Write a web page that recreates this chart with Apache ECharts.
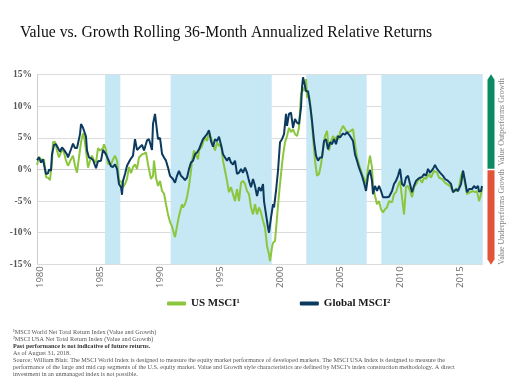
<!DOCTYPE html>
<html>
<head>
<meta charset="utf-8">
<script src="https://cdn.jsdelivr.net/npm/echarts@6/dist/echarts.min.js"></script>
<style>html,body{margin:0;padding:0;background:#fff;}#c{width:522px;height:384px;}</style>
</head>
<body>
<div id="c"></div>
<script>
// months since Jan 1980
const usMonths = [-3,-1,2,4,6,8,10,12,13,15,17,19,22,24,26,28,31,33,35,37,39,41,43,44,46,48,50,52,54,56,58,60,63,64,66,68,71,73,75,77,79,81,83,85,87,89,91,93,95,97,99,102,104,106,108,111,113,114,116,118,120,122,124,126,128,
130,132,133,135,137,139,142,143,145,147,149,151,152,154,156,158,159,162,163,165,167,169,171,173,175,177,179,181,183,185,187,189,191,193,195,197,199,201,203,205,207,209,211,213,215,217,219,221,223,225,227,229,230,232,233,235,237,239,241,243,245,247,249,251,253,255,257,259,261,263,264,266,267,269,271,273,275,277,279,281,283,285,287,289,291,293,295,297,299,
300,303,305,307,310,313,315,317,319,322,324,326,328,330,332,333,335,337,339,341,343,345,347,349,352,354,356,358,360,362,364,366,368,370,372,374,377,379,382,384,386,389,391,394,397,399,402,405,407,410,413,415,417,419,421,423,425,427,430,433,435,437,439,441,442];
const usValues = [0.7,2.0,1.4,1.6,-1.2,-1.3,-1.7,1.4,4.3,4.4,3.0,1.9,3.1,2.7,1.4,0.6,1.6,2.2,0.6,-0.5,1.9,4.3,5.7,5.3,3.0,0.3,1.4,2.2,1.4,1.1,3.4,3.0,3.4,4.0,3.1,0.9,0.8,1.6,2.2,1.4,-1.8,-1.9,-2.8,-2.3,-1.5,0.4,-0.6,0.4,0.8,0.1,1.9,2.4,2.5,2.7,0.8,-1.5,-1.0,1.4,-1.3,-2.6,-1.8,-3.4,-3.8,-5.5,-7.1,
-8.3,-9.0,-9.6,-10.7,-9.0,-7.3,-5.5,-6.0,-5.5,-4.4,-2.6,-0.2,1.4,3.0,2.3,1.6,3.0,3.7,4.3,5.1,4.5,5.9,5.0,4.0,3.0,4.3,3.7,4.1,1.4,-0.2,-1.8,-3.6,-2.8,-3.9,-5.0,-3.1,-5.0,-2.1,-1.8,-2.3,-3.4,-3.9,-6.0,-7.1,-5.5,-7.1,-6.0,-6.8,-8.1,-9.2,-12.1,-13.4,-14.5,-12.3,-11.6,-11.3,-7.6,-3.9,-0.7,2.2,4.3,5.3,6.6,5.9,6.4,5.6,5.3,6.6,11.9,13.0,12.4,14.3,11.4,11.7,9.3,5.1,1.4,-1.0,-0.7,0.8,3.2,5.3,6.1,3.0,4.5,5.3,4.6,5.3,4.8,
5.9,6.9,6.4,5.9,6.0,6.4,4.0,1.9,0.8,-0.7,-1.5,-2.3,0.3,2.2,0.3,-2.6,-4.2,-5.5,-5.0,-6.3,-6.8,-6.3,-6.0,-5.0,-5.2,-3.9,-3.6,-2.6,-1.8,-4.4,-7.1,-2.8,-2.6,-3.4,-4.4,-2.8,-2.1,-1.3,-2.1,-1.3,-1.5,-0.7,-1.3,-0.2,-0.5,-1.3,-1.5,-2.1,-2.3,-2.6,-3.5,-3.4,-3.4,-2.8,-1.0,-0.2,-2.3,-3.9,-3.6,-3.4,-3.6,-3.4,-5.0,-3.9,-3.1];

const globalMonths = [-3,-1,1,3,4,6,8,9,11,12,14,16,18,20,22,24,27,28,31,33,35,37,40,41,43,44,46,47,49,51,53,56,58,61,63,66,69,71,73,75,77,79,81,82,83,85,87,90,93,95,97,99,102,104,107,109,112,113,115,117,118,120,122,124,126,128,
130,133,135,137,139,141,143,145,147,149,151,153,155,157,159,161,163,165,167,169,171,173,175,177,179,182,183,185,187,189,191,193,195,197,199,201,203,205,207,209,211,213,215,217,219,221,223,224,226,228,229,231,233,234,236,238,240,242,244,246,247,249,251,253,255,257,259,261,262,263,265,266,268,270,272,274,276,278,280,282,284,286,288,290,292,294,296,298,
300,303,305,307,310,313,315,317,319,322,324,326,328,330,332,333,335,337,339,341,343,347,349,352,354,356,358,360,362,364,366,368,370,372,374,376,378,380,382,384,386,388,390,393,395,397,400,403,405,408,411,413,416,418,421,423,425,427,429,432,434,436,438,439,441,442];
const globalValues = [1.5,1.9,1.1,1.6,0.8,-0.7,-0.6,0.0,-0.2,2.4,3.9,4.0,3.4,2.8,3.5,3.1,2.4,1.9,3.2,4.1,3.4,3.4,5.6,7.2,6.6,6.8,5.2,3.0,1.9,1.8,1.5,0.2,1.3,1.4,3.1,2.4,1.3,0.5,0.4,0.8,0.1,-2.3,-2.8,-4.0,-1.8,-0.7,0.6,1.5,2.2,4.8,3.1,3.4,3.9,3.0,4.6,4.8,3.1,7.2,8.8,6.1,4.8,5.0,2.5,1.9,1.4,0.3,
-1.0,-1.5,-2.1,-1.0,-0.2,-1.0,-1.3,-1.7,-1.3,0.1,1.1,1.4,2.4,2.7,3.2,4.0,4.8,5.2,5.6,6.2,4.5,3.6,4.8,4.5,5.2,3.2,2.4,1.9,1.4,1.9,1.1,0.8,1.4,-0.7,-0.5,0.1,-0.5,0.3,-0.5,-1.8,-2.8,-1.5,-2.6,-4.2,-2.8,-3.4,-2.3,-5.0,-7.1,-9.2,-10.0,-7.6,-5.5,-6.0,-3.4,-0.2,4.3,4.8,5.6,8.8,6.9,8.8,9.0,6.6,8.0,7.4,7.2,9.8,13.0,14.6,13.2,12.4,12.4,10.3,7.7,4.5,2.2,1.4,1.9,1.9,4.5,4.8,3.2,4.3,4.0,4.8,4.0,5.3,
5.1,5.7,5.5,5.9,5.3,4.5,2.4,1.4,0.3,-1.0,-2.1,-3.4,-1.0,-0.1,-1.8,-3.9,-2.6,-3.4,-2.6,-3.4,-4.4,-4.4,-4.3,-3.4,-2.3,-1.8,-1.0,0.1,-2.3,-2.6,-1.3,-1.0,-2.3,-3.6,-2.6,-1.8,-1.5,-1.3,-1.2,-0.7,-1.0,0.1,-0.5,0.1,0.7,0.1,-0.5,-1.0,-1.5,-1.8,-2.3,-3.6,-3.1,-3.4,-2.3,-0.2,-1.8,-3.6,-3.1,-3.1,-2.6,-3.0,-2.6,-3.5,-3.4,-2.6];

// shaded periods (decimal years)
const bandStarts = [1985.42, 1990.89, 2002.19, 2008.44];
const bandEnds   = [1986.69, 1999.31, 2007.22, 2016.89];

const xLabelYears = [1980, 1985, 1990, 1995, 2000, 2005, 2010, 2015];
const seriesNames = ['US MSCI\u00B9', 'Global MSCI\u00B2'];

const xMin = 1979.75, xMax = 2016.89;
const toYear = m => 1980 + m / 12;
const usData = usMonths.map((m, i) => [toYear(m), usValues[i]]);
const globalData = globalMonths.map((m, i) => [toYear(m), globalValues[i]]);

const serif = "'Liberation Serif', 'DejaVu Serif', serif";
const chart = echarts.init(document.getElementById('c'), null, {renderer: 'canvas'});

chart.setOption({
  animation: false,
  title: {
    text: 'Value vs. Growth Rolling 36-Month Annualized Relative Returns',
    left: 15, top: 20,
    textStyle: {fontFamily: serif, fontSize: 15.7, fontWeight: 'normal', color: '#111'}
  },
  grid: {left: 37, right: 39.3, top: 74.7, bottom: 119.7, containLabel: false},
  legend: {
    data: seriesNames,
    left: 162, top: 293, itemGap: 60, itemWidth: 19, itemHeight: 4, icon: 'roundRect',
    textStyle: {fontFamily: serif, fontSize: 11, fontWeight: 'bold', color: '#1a1a1a'}
  },
  xAxis: {
    type: 'value', min: xMin, max: xMax,
    axisLine: {show: true, lineStyle: {color: '#cfcfcf', width: 1}},
    axisTick: {show: false},
    splitLine: {show: false},
    axisLabel: {
      customValues: xLabelYears, rotate: 90, margin: 2,
      fontFamily: "'Open Sans', sans-serif", fontSize: 9.5, color: '#6a6a6a',
      formatter: v => String(Math.round(v))
    }
  },
  yAxis: {
    type: 'value', min: -15, max: 15, interval: 5,
    axisLine: {show: true, lineStyle: {color: '#cfcfcf'}},
    axisTick: {show: false},
    splitLine: {show: true, lineStyle: {color: '#dcdcdc', width: 1}},
    axisLabel: {margin: 5, fontFamily: serif, fontSize: 9.5, fontWeight: 'bold', color: '#555', formatter: '{value}%'}
  },
  series: [
    {
      type: 'line', name: 'bands', data: [], z: -1, silent: true,
      markArea: {
        silent: true,
        itemStyle: {color: '#c6e7f4'},
        data: bandStarts.map((s, i) => [{xAxis: s}, {xAxis: bandEnds[i]}])
      }
    },
    {
      type: 'line', name: seriesNames[0], data: usData, showSymbol: false,
      lineStyle: {color: '#8cc63f', width: 2}, itemStyle: {color: '#8cc63f'}
    },
    {
      type: 'line', name: seriesNames[1], data: globalData, showSymbol: false,
      lineStyle: {color: '#0b3a5e', width: 2}, itemStyle: {color: '#0b3a5e'}
    }
  ]
});

// right-side indicator bar, placed with the chart's own scale
const yTop = chart.convertToPixel({yAxisIndex: 0}, 15);
const yZero = chart.convertToPixel({yAxisIndex: 0}, 0);
const yBot = chart.convertToPixel({yAxisIndex: 0}, -15);
const bx = 491, bw = 3.5;
const foot = [
  {t: '\u00B9MSCI World Net Total Return Index (Value and Growth)', b: false},
  {t: '\u00B2MSCI USA Net Total Return Index (Value and Growth)', b: false},
  {t: 'Past performance is not indicative of future returns.', b: true},
  {t: 'As of August 31, 2018.', b: false},
  {t: 'Source: William Blair. The MSCI World Index is designed to measure the equity market performance of developed markets. The MSCI USA Index is designed to measure the', b: false},
  {t: 'performance of the large and mid cap segments of the U.S. equity market. Value and Growth style characteristics are defined by MSCI\u2019s index construction methodology. A direct', b: false},
  {t: 'investment in an unmanaged index is not possible.', b: false}
];
chart.setOption({
  graphic: [
    {type: 'polygon', shape: {points: [[bx - bw, yZero - 0.8], [bx - bw, yTop + 5], [bx, yTop - 0.5], [bx + bw, yTop + 5], [bx + bw, yZero - 0.8]]}, style: {fill: '#0a8a62'}},
    {type: 'polygon', shape: {points: [[bx - bw, yZero + 0.8], [bx - bw, yBot - 5], [bx, yBot + 0.5], [bx + bw, yBot - 5], [bx + bw, yZero + 0.8]]}, style: {fill: '#e0543a'}},
    {type: 'text', x: 502.3, y: (yTop + yZero) / 2, rotation: Math.PI / 2,
     style: {text: 'Value Outperforms Growth', font: "8px 'Liberation Serif'", fill: '#808080', align: 'center', verticalAlign: 'middle'}},
    {type: 'text', x: 502.3, y: (yZero + yBot) / 2, rotation: Math.PI / 2,
     style: {text: 'Value Underperforms Growth', font: "8px 'Liberation Serif'", fill: '#808080', align: 'center', verticalAlign: 'middle'}}
  ].concat(foot.map((f, i) => ({
    type: 'text', x: 13, y: 332.7 + i * 7,
    style: {text: f.t, font: (f.b ? 'bold ' : '') + "6.2px 'Liberation Serif'", fill: f.b ? '#333' : '#555', verticalAlign: 'middle'}
  })))
});
</script>
</body>
</html>
